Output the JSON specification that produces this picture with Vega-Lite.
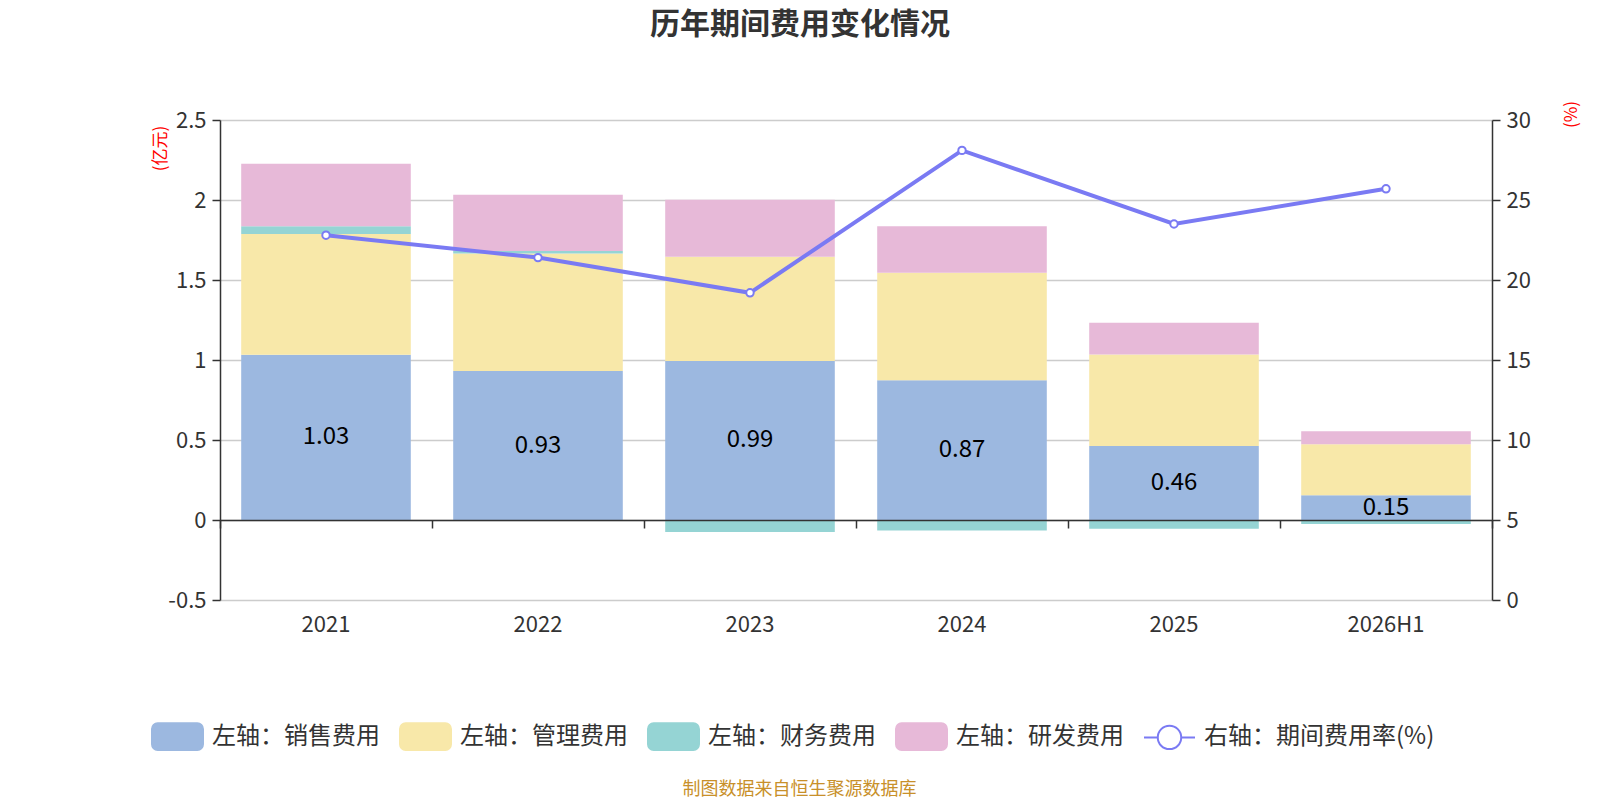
{
  "$schema": "https://vega.github.io/schema/vega-lite/v6.json",
  "width": 1272,
  "height": 480,
  "autosize": {"type": "none"},
  "padding": {"left": 220, "top": 120, "right": 108, "bottom": 200},
  "background": "white",
  "title": {
    "text": "历年期间费用变化情况",
    "font": "Noto Sans CJK SC",
    "fontSize": 30,
    "fontWeight": "bold",
    "color": "#333333",
    "anchor": "middle",
    "frame": "group",
    "dx": -56,
    "offset": 60
  },
  "config": {
    "view": {"stroke": null},
    "font": "Noto Sans CJK SC",
    "axis": {"labelFont": "Noto Sans CJK SC", "titleFont": "Noto Sans CJK SC"},
    "legend": {"labelFont": "Noto Sans CJK SC"}
  },
  "datasets": {
    "costs": [
      {"year": "2021", "series": "左轴：销售费用", "value": 1.033},
      {"year": "2021", "series": "左轴：管理费用", "value": 0.755},
      {"year": "2021", "series": "左轴：财务费用", "value": 0.048},
      {"year": "2021", "series": "左轴：研发费用", "value": 0.39},
      {"year": "2022", "series": "左轴：销售费用", "value": 0.931},
      {"year": "2022", "series": "左轴：管理费用", "value": 0.734},
      {"year": "2022", "series": "左轴：财务费用", "value": 0.016},
      {"year": "2022", "series": "左轴：研发费用", "value": 0.352},
      {"year": "2023", "series": "左轴：销售费用", "value": 0.994},
      {"year": "2023", "series": "左轴：管理费用", "value": 0.652},
      {"year": "2023", "series": "左轴：财务费用", "value": -0.075},
      {"year": "2023", "series": "左轴：研发费用", "value": 0.356},
      {"year": "2024", "series": "左轴：销售费用", "value": 0.873},
      {"year": "2024", "series": "左轴：管理费用", "value": 0.673},
      {"year": "2024", "series": "左轴：财务费用", "value": -0.065},
      {"year": "2024", "series": "左轴：研发费用", "value": 0.29},
      {"year": "2025", "series": "左轴：销售费用", "value": 0.462},
      {"year": "2025", "series": "左轴：管理费用", "value": 0.573},
      {"year": "2025", "series": "左轴：财务费用", "value": -0.054},
      {"year": "2025", "series": "左轴：研发费用", "value": 0.198},
      {"year": "2026H1", "series": "左轴：销售费用", "value": 0.154},
      {"year": "2026H1", "series": "左轴：管理费用", "value": 0.319},
      {"year": "2026H1", "series": "左轴：财务费用", "value": -0.025},
      {"year": "2026H1", "series": "左轴：研发费用", "value": 0.081}
    ],
    "rate": [
      {"year": "2021", "rate": 22.8},
      {"year": "2022", "rate": 21.4},
      {"year": "2023", "rate": 19.2},
      {"year": "2024", "rate": 28.1},
      {"year": "2025", "rate": 23.5},
      {"year": "2026H1", "rate": 25.7}
    ]
  },
  "resolve": {"scale": {"y": "independent"}, "axis": {"x": "independent"}},
  "layer": [
    {
      "data": {"name": "costs"},
      "encoding": {
        "x": {
          "field": "year",
          "type": "nominal",
          "sort": null,
          "scale": {"paddingInner": 0, "paddingOuter": 0},
          "axis": {
            "orient": "bottom",
            "domain": false,
            "ticks": false,
            "tickSize": 0,
            "grid": false,
            "labelAngle": 0,
            "labelFontSize": 22,
            "labelColor": "#333333",
            "labelPadding": 14,
            "title": "制图数据来自恒生聚源数据库",
            "titleFontSize": 18,
            "titleFontWeight": "normal",
            "titleColor": "#c8902a",
            "titleX": 579,
            "titleY": 189,
            "titleAlign": "center",
            "titleBaseline": "middle"
          }
        }
      },
      "layer": [
        {
          "transform": [
            {"calculate": "indexof(['左轴：销售费用', '左轴：管理费用', '左轴：财务费用', '左轴：研发费用'], datum.series)", "as": "stackOrder"}
          ],
          "mark": {"type": "bar", "width": {"band": 0.8}},
          "encoding": {
            "y": {
              "field": "value",
              "type": "quantitative",
              "stack": "zero",
              "scale": {"domain": [-0.5, 2.5], "nice": false, "zero": false},
              "axis": {
                "orient": "left",
                "values": [-0.5, 0, 0.5, 1, 1.5, 2, 2.5],
                "labelExpr": "datum.value + ''",
                "grid": true,
                "gridColor": "#cccccc",
                "gridWidth": 1.5,
                "domain": true,
                "domainColor": "#333333",
                "domainWidth": 1.5,
                "tickColor": "#333333",
                "tickWidth": 1.5,
                "tickSize": 8,
                "labelFontSize": 22,
                "labelColor": "#333333",
                "labelPadding": 6,
                "title": "(亿元)",
                "titleColor": "red",
                "titleFontSize": 17,
                "titleFontWeight": "normal",
                "titleAngle": 270,
                "titleX": -60,
                "titleY": 28,
                "titleAlign": "center",
                "titleBaseline": "middle"
              }
            },
            "order": {"field": "stackOrder", "type": "quantitative", "sort": "ascending"},
            "color": {
              "field": "series",
              "type": "nominal",
              "scale": {
                "domain": ["左轴：销售费用", "左轴：管理费用", "左轴：财务费用", "左轴：研发费用", "右轴：期间费用率(%)"],
                "range": ["#9cb8e0", "#f8e8a9", "#95d4d4", "#e7b9d8", "#7a7af3"]
              },
              "legend": {
                "orient": "none",
                "legendX": -69,
                "legendY": 590,
                "direction": "horizontal",
                "columns": 5,
                "title": null,
                "symbolSize": 2600,
                "labelFontSize": 24,
                "labelColor": "#333333",
                "labelOffset": 8,
                "labelLimit": 400,
                "columnPadding": 16,
                "encode": {
                  "symbols": {
                    "update": {
                      "shape": {"signal": "datum.value === '右轴：期间费用率(%)' ? 'M-1,0H-0.46M0.46,0H1M0.46,0A0.46,0.46 0 1 1 -0.46,0A0.46,0.46 0 1 1 0.46,0Z' : 'M-0.78,-0.52H0.78A0.22,0.22 0 0 1 1,-0.3V0.3A0.22,0.22 0 0 1 0.78,0.52H-0.78A0.22,0.22 0 0 1 -1,0.3V-0.3A0.22,0.22 0 0 1 -0.78,-0.52Z'"},
                      "fill": {"signal": "datum.value === '右轴：期间费用率(%)' ? 'white' : scale('color', datum.value)"},
                      "fillOpacity": {"signal": "datum.value === '右轴：期间费用率(%)' ? 0 : 1"},
                      "stroke": {"signal": "datum.value === '右轴：期间费用率(%)' ? scale('color', datum.value) : 'transparent'"},
                      "strokeWidth": {"value": 2},
                      "opacity": {"value": 1}
                    }
                  }
                }
              }
            }
          }
        },
        {
          "transform": [
            {"filter": "datum.series === '左轴：销售费用'"},
            {"calculate": "datum.value / 2", "as": "labelPos"}
          ],
          "mark": {"type": "text", "fontSize": 24, "color": "black", "baseline": "middle"},
          "encoding": {
            "y": {"field": "labelPos", "type": "quantitative"},
            "text": {"field": "value", "type": "quantitative", "format": ".2f"}
          }
        }
      ]
    },
    {
      "data": {"name": "rate"},
      "mark": {
        "type": "line",
        "strokeWidth": 4,
        "point": {"filled": false, "fill": "white", "size": 55, "strokeWidth": 2}
      },
      "encoding": {
        "x": {
          "field": "year",
          "type": "nominal",
          "sort": null,
          "axis": {
            "orient": "bottom",
            "offset": -80,
            "labels": false,
            "ticks": true,
            "tickBand": "extent",
            "tickSize": 8,
            "tickColor": "#333333",
            "tickWidth": 1.5,
            "domain": true,
            "domainColor": "#333333",
            "domainWidth": 1.5,
            "grid": false,
            "title": null,
            "zindex": 1
          }
        },
        "y": {
          "field": "rate",
          "type": "quantitative",
          "scale": {"domain": [0, 30], "nice": false},
          "axis": {
            "orient": "right",
            "values": [0, 5, 10, 15, 20, 25, 30],
            "grid": false,
            "domain": true,
            "domainColor": "#333333",
            "domainWidth": 1.5,
            "tickColor": "#333333",
            "tickWidth": 1.5,
            "tickSize": 8,
            "labelFontSize": 22,
            "labelColor": "#333333",
            "labelPadding": 6,
            "title": "(%)",
            "titleColor": "red",
            "titleFontSize": 17,
            "titleFontWeight": "normal",
            "titleAngle": 270,
            "titleX": 79,
            "titleY": -6,
            "titleAlign": "center",
            "titleBaseline": "middle"
          }
        },
        "color": {"datum": "右轴：期间费用率(%)"}
      }
    }
  ]
}
